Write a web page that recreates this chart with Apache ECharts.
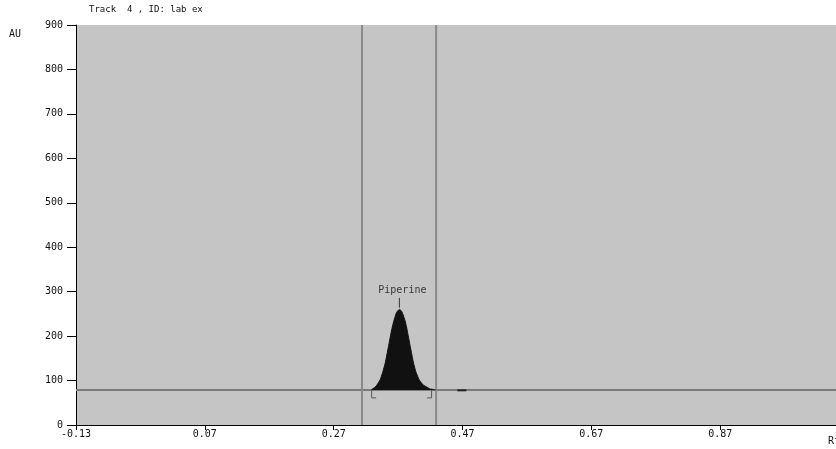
<!DOCTYPE html>
<html>
<head>
<meta charset="utf-8">
<script src="https://cdn.jsdelivr.net/npm/echarts@6/dist/echarts.min.js"></script>
<style>html,body{margin:0;padding:0;background:#fff}#c{width:836px;height:449px}</style>
</head>
<body>
<div id="c"></div>
<script>
// Data (Rf, AU)
const titleText = 'Track  4 , ID: lab ex';
const yTicks = [0, 100, 200, 300, 400, 500, 600, 700, 800, 900];
const xTicks = [-0.13, 0.07, 0.27, 0.47, 0.67, 0.87];
const baselineAU = 79;
const peakName = 'Piperine';
const peakRf = [0.329, 0.335, 0.342, 0.346, 0.350, 0.355, 0.360, 0.363, 0.367, 0.369, 0.372, 0.375, 0.377, 0.381, 0.384, 0.389, 0.394, 0.398, 0.403, 0.409, 0.415, 0.420, 0.425];
const peakAU = [80, 86, 101, 118, 139, 176, 214, 232, 251, 256, 260, 257, 251, 234, 214, 176, 139, 118, 101, 90, 85, 81, 80];
const peakMaxRf = 0.372;
const peakMaxAU = 260;
const windowRf = [0.314, 0.429];
const bracketLeft = [[0.329, 79], [0.329, 61], [0.336, 61]];
const bracketRight = [[0.422, 79], [0.422, 61], [0.415, 61]];
const tailSeg = [[0.421, 80], [0.429, 79]];
const dashSeg = [[0.462, 78], [0.476, 78]];

const peakData = peakRf.map((x, i) => [x, peakAU[i]]);
const fontFam = '"DejaVu Sans Mono", monospace';

const chart = echarts.init(document.getElementById('c'), null, {renderer: 'canvas'});
const lineS = (data, color, width) => ({
  type: 'line', data, symbol: 'none', silent: true, animation: false,
  lineStyle: {color, width}, z: 3
});
chart.setOption({
  animation: false,
  backgroundColor: '#ffffff',
  grid: {left: 76, top: 25, bottom: 24, width: 773, show: true, backgroundColor: '#c5c5c5', borderWidth: 0, outerBoundsMode: 'none', containLabel: false},
  title: {text: titleText, left: 89, top: 5, padding: 0, textStyle: {fontSize: 9, fontWeight: 'normal', color: '#111', fontFamily: fontFam}},
  graphic: [
    {type: 'text', left: 9, top: 29, style: {text: 'AU', fontSize: 10, fill: '#111', fontFamily: fontFam}},
    {type: 'text', left: 828, top: 436, style: {text: 'Rf', fontSize: 10, fill: '#111', fontFamily: fontFam}}
  ],
  xAxis: {
    type: 'value', min: -0.13, max: 1.07, interval: 0.2,
    axisLine: {show: true, onZero: false, lineStyle: {color: '#000', width: 1}},
    axisTick: {show: true, length: 5, lineStyle: {color: '#000'}},
    splitLine: {show: false},
    axisLabel: {margin: 4, fontSize: 10, color: '#111', fontFamily: fontFam,
      formatter: v => { const r = Math.round(v * 100) / 100; return xTicks.some(t => Math.abs(t - r) < 1e-6) ? r.toFixed(2) : ''; }}
  },
  yAxis: {
    type: 'value', min: 0, max: 900, interval: 100,
    axisLine: {show: true, onZero: false, lineStyle: {color: '#000', width: 1}},
    axisTick: {show: true, length: 9, lineStyle: {color: '#000'}},
    splitLine: {show: false},
    axisLabel: {margin: 13, fontSize: 10, color: '#111', fontFamily: fontFam,
      formatter: v => yTicks.includes(v) ? String(v) : ''}
  },
  series: [
    {type: 'line', data: [[-0.13, baselineAU], [1.07, baselineAU]], symbol: 'none', silent: true, lineStyle: {color: '#7a7a7a', width: 2}, z: 2},
    lineS([[windowRf[0], 0], [windowRf[0], 900]], '#8a8a8a', 2),
    lineS([[windowRf[1], 0], [windowRf[1], 900]], '#8a8a8a', 2),
    {type: 'line', data: peakData, symbol: 'none', silent: true, smooth: 0.15,
      lineStyle: {color: '#111', width: 1}, areaStyle: {color: '#111', opacity: 1, origin: baselineAU}, z: 4},
    lineS(bracketLeft, '#555', 1),
    lineS(bracketRight, '#555', 1),
    lineS(tailSeg, '#333', 1),
    lineS(dashSeg, '#222', 2),
    lineS([[peakMaxRf, peakMaxAU + 4], [peakMaxRf, peakMaxAU + 26]], '#333', 1),
    {type: 'scatter', data: [[peakMaxRf, peakMaxAU + 26]], symbolSize: 0, silent: true, z: 5,
      label: {show: true, formatter: peakName, position: 'top', distance: 2, offset: [3, 0], fontSize: 10, color: '#111', fontFamily: fontFam}}
  ]
});
</script>
</body>
</html>
